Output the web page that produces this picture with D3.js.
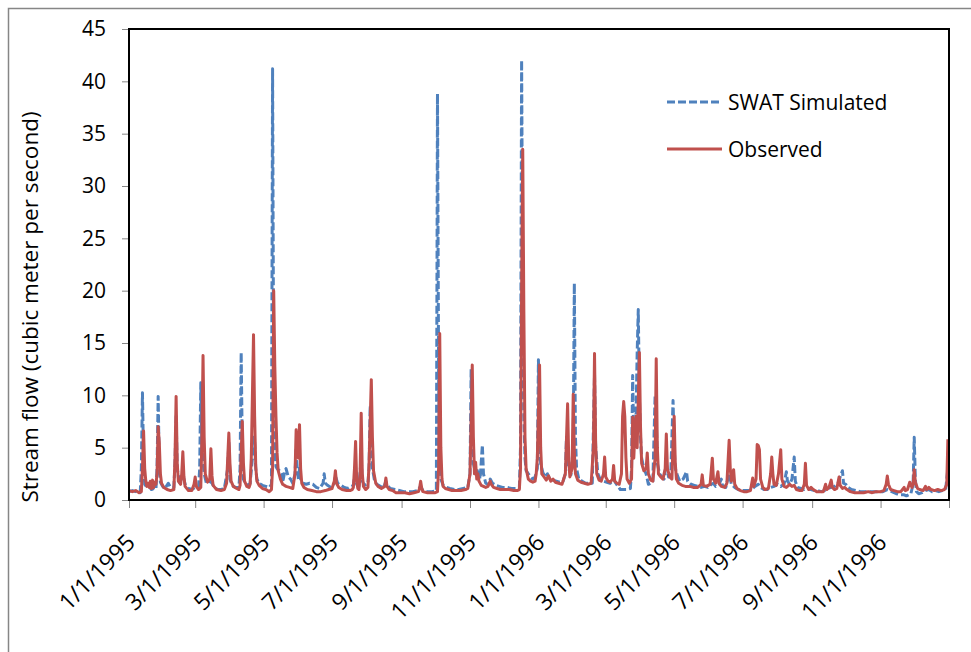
<!DOCTYPE html>
<html>
<head>
<meta charset="utf-8">
<script src="https://d3js.org/d3.v7.min.js"></script>
<style>
body { margin: 0; background: #fff; }
text { font-family: "Open Sans", sans-serif; fill: #000; }
</style>
</head>
<body>
<svg id="chart" width="971" height="652"></svg>
<script>
// day number counted from 1/1/1995
var simDay = [0,3,6,9,10,11,12,13,14,16,18,20,22,24,25,26,27,28,30,32,35,37,40,41,42,43,45,48,50,53,56,59,62,63,64,65,67,69,72,74,76,79,82,85,88,89,90,92,95,98,99,100,101,102,104,106,108,110,111,112,113,114,116,119,122,125,127,128,129,130,131,132,134,136,137,139,140,142,144,146,148,149,150,151,152,153,155,158,161,164,167,170,173,174,175,177,180,183,184,186,189,192,195,198,200,202,203,205,207,208,210,213,214,215,216,217,219,221,224,227,229,230,233,237,241,245,249,253,257,260,262,266,270,274,275,276,277,278,280,283,286,290,294,298,302,304,305,306,307,309,311,313,315,316,318,320,322,324,327,330,333,337,341,345,348,349,350,351,352,353,354,356,358,360,362,364,365,366,367,369,371,373,375,378,381,384,387,389,390,392,394,396,397,398,399,401,404,407,410,413,415,416,418,420,423,426,429,432,434,436,438,441,444,447,448,449,450,452,453,454,455,456,457,459,461,463,465,467,469,470,471,473,475,477,479,481,483,484,485,486,487,489,491,494,497,498,501,504,507,510,513,516,519,521,523,526,528,529,532,535,537,540,543,546,549,552,555,558,561,563,566,569,572,575,578,581,584,586,587,589,591,593,594,596,599,602,605,608,611,614,617,620,623,626,629,632,635,636,637,639,641,644,648,652,656,660,664,668,672,676,680,684,688,691,693,695,697,699,700,701,702,704,707,710,713,716,719,722,725,728,730];
var simFlow = [0.8,0.9,0.8,0.7,0.7,3.0,10.25,3.5,1.5,1.2,1.3,1.0,1.1,1.0,3.0,9.9,3.0,1.7,1.3,1.1,1.6,1.2,1.2,3.5,8.0,3.0,1.6,2.5,1.5,1.1,1.0,1.2,1.2,3.0,11.2,5.0,2.5,1.6,1.8,1.6,1.2,1.0,1.0,1.1,3.0,5.5,2.0,1.4,1.2,1.2,3.0,14.1,5.0,2.0,1.5,1.4,1.6,4.0,6.0,5.5,3.0,2.0,1.6,1.4,1.3,1.2,1.5,41.2,10.0,5.0,3.2,3.0,2.8,2.5,1.7,2.8,3.0,2.2,2.0,1.6,2.5,5.0,3.0,2.0,3.0,2.0,1.6,1.5,1.6,1.5,1.2,1.1,1.6,2.5,1.6,1.4,1.2,1.6,2.3,1.6,1.4,1.2,1.1,1.3,1.4,3.0,1.5,1.3,4.0,1.8,1.4,1.6,3.0,9.0,6.0,3.0,1.8,1.5,1.3,1.2,1.8,1.4,1.1,1.0,0.9,0.8,0.8,0.8,0.9,1.3,0.9,0.8,0.8,0.9,38.8,12.0,4.0,2.0,1.4,1.2,1.1,1.0,1.0,1.1,1.2,2.5,12.5,6.0,3.5,2.5,3.0,2.0,5.25,2.5,1.6,1.5,2.0,1.6,1.4,1.3,1.2,1.2,1.1,1.1,1.2,5.0,42.0,20.0,8.0,4.0,2.8,2.5,2.2,2.0,2.2,3.0,13.4,6.0,3.5,2.6,2.2,2.5,2.0,1.9,1.8,1.7,1.8,2.5,6.0,3.0,2.4,5.0,20.7,6.0,3.0,2.0,1.8,1.6,1.6,1.6,12.0,5.0,2.5,2.0,1.8,1.7,1.6,2.0,1.6,1.3,1.0,1.0,1.0,1.1,3.0,11.9,5.0,8.0,14.0,18.2,10.0,6.0,4.0,3.0,2.5,1.5,1.6,1.8,10.0,8.0,3.5,2.5,2.2,2.0,3.5,2.2,2.5,6.0,9.5,5.0,3.0,2.3,1.8,2.0,2.7,1.8,1.5,1.4,1.3,1.2,1.3,1.2,1.5,1.6,1.3,1.5,2.0,1.4,1.2,2.5,1.5,1.2,1.0,0.9,0.9,0.9,1.0,1.3,1.5,1.2,1.0,1.0,1.2,1.3,1.5,1.3,1.5,2.7,1.8,1.5,2.0,4.1,1.8,1.2,1.1,1.0,1.1,1.0,0.9,0.9,0.8,0.9,1.1,1.2,1.3,1.6,2.5,2.8,1.6,1.5,1.2,1.0,0.9,0.8,0.8,0.8,0.8,0.8,0.8,1.0,0.8,0.6,0.5,0.5,0.4,0.5,0.6,1.5,6.0,2.0,0.8,0.6,0.7,0.9,1.0,0.8,0.9,0.8,0.9,1.0,3.0];

var obsDay = [0,3,6,9,11,12,13,14,15,16,17,18,19,20,21,22,23,24,25,26,27,28,29,31,34,37,40,41,42,43,44,46,47,48,49,50,53,56,58,59,60,62,64,65,66,67,68,70,72,73,74,75,78,82,85,87,89,90,91,93,96,98,99,101,102,103,105,107,108,109,111,112,113,114,116,119,122,125,127,128,129,130,131,132,133,135,137,140,143,146,148,149,150,151,152,153,154,156,159,163,167,171,175,178,181,183,184,185,187,190,194,197,199,200,201,202,203,204,205,206,207,208,209,211,213,214,216,217,218,220,222,225,228,229,230,232,235,238,242,246,250,254,258,259,260,261,262,266,270,273,275,276,277,278,279,280,282,285,288,292,296,300,302,304,306,307,308,309,310,311,312,314,316,318,320,322,323,325,328,331,335,339,343,346,348,349,350,351,352,353,354,356,358,360,362,363,364,366,367,368,370,372,374,376,378,380,383,386,389,391,392,393,395,396,397,398,400,403,406,409,412,414,415,416,417,419,421,423,424,425,427,429,431,432,433,435,437,439,440,441,442,443,444,446,448,449,450,451,452,453,455,456,457,459,461,462,463,465,467,469,470,471,472,474,476,478,479,480,482,484,485,486,487,488,490,493,496,500,503,507,510,511,512,515,518,520,521,523,525,526,528,531,533,535,536,537,539,540,542,545,548,551,554,556,557,559,560,561,562,563,565,567,570,572,573,574,575,577,579,581,582,584,586,589,591,593,595,598,600,602,603,604,606,608,610,613,616,619,621,622,624,626,627,629,631,633,634,636,638,640,643,647,651,655,659,662,666,670,673,675,676,677,679,682,685,688,691,692,694,696,698,699,700,701,703,705,708,710,711,713,715,718,721,724,727,729,730];
var obsFlow = [0.9,0.8,0.9,0.7,0.8,3.0,6.6,3.0,1.8,1.3,1.6,1.2,1.8,1.1,1.9,1.2,1.7,1.5,2.5,7.0,5.5,2.5,1.6,1.2,1.0,0.9,1.0,4.0,9.9,3.5,1.8,1.5,2.5,4.6,2.2,1.3,0.9,0.9,1.5,2.2,1.3,1.0,1.2,6.0,13.8,6.0,2.5,1.7,2.0,4.9,2.3,1.4,1.0,0.9,1.0,1.6,6.4,3.5,1.8,1.3,1.1,1.0,1.4,7.5,3.5,1.8,1.3,1.2,1.5,4.0,15.8,8.0,3.2,1.8,1.4,1.1,1.0,0.8,1.0,3.0,20.0,12.7,8.0,4.5,2.8,2.0,1.5,1.3,1.2,1.1,2.5,6.7,5.0,4.0,7.2,3.0,1.6,1.2,1.0,0.9,0.8,0.8,0.9,1.0,1.1,1.8,2.8,1.6,1.2,1.0,0.9,0.9,1.0,1.2,3.0,5.6,1.8,1.1,1.0,2.5,8.3,2.5,1.3,1.0,1.2,3.5,11.5,6.0,2.8,1.6,1.3,1.1,1.3,2.1,1.3,1.0,0.9,0.7,0.7,0.7,0.6,0.7,0.8,1.1,1.8,1.1,0.8,0.7,0.7,0.7,0.8,3.0,15.9,5.0,2.0,1.3,1.1,1.0,0.9,0.9,0.9,1.0,1.1,2.5,12.9,6.0,2.5,3.6,2.0,2.5,1.8,1.4,1.3,1.2,1.3,1.8,1.5,1.2,1.1,1.0,1.0,1.0,0.9,0.9,1.0,3.0,20.0,33.5,18.0,6.0,3.0,2.0,1.8,1.7,1.8,2.5,4.0,12.9,5.0,2.5,2.2,1.9,2.3,1.8,2.0,1.7,1.6,1.5,2.5,9.2,4.0,2.2,3.0,10.1,4.5,2.5,1.9,1.7,1.6,1.5,1.6,5.0,14.0,5.5,2.5,1.9,1.8,2.5,4.1,2.2,1.8,1.7,2.0,3.3,1.8,1.6,1.5,2.5,8.0,9.4,8.0,4.0,2.0,1.6,2.0,7.9,4.0,6.5,8.0,5.0,14.1,7.0,3.5,2.8,3.0,4.5,2.5,1.9,1.8,4.0,13.5,5.0,2.5,2.2,2.0,3.0,6.3,3.0,2.2,2.0,5.5,8.0,3.5,2.0,1.6,1.4,1.3,1.3,1.2,1.2,1.5,2.4,1.4,1.3,1.5,4.0,2.0,1.6,2.7,1.6,1.3,1.2,1.6,5.7,3.0,1.8,2.9,1.5,1.1,0.9,0.8,0.8,0.9,2.1,1.3,2.0,5.3,5.2,4.8,2.0,1.2,1.0,1.1,2.5,4.1,2.5,1.5,1.4,2.5,4.8,2.0,1.3,1.2,1.5,1.3,1.4,1.0,0.9,0.9,1.5,3.5,1.4,1.0,1.2,1.0,0.8,0.8,0.8,1.5,1.0,1.2,1.9,1.2,1.0,1.1,2.2,1.4,1.1,1.2,1.0,0.8,0.7,0.7,0.7,0.8,0.7,0.8,0.8,0.9,1.5,2.3,1.5,1.0,0.9,0.8,0.8,1.2,0.9,1.0,1.7,1.2,1.5,2.9,1.7,1.1,1.0,0.9,1.3,1.0,1.2,1.0,0.9,1.0,0.9,1.0,1.5,5.8];

var yTicks = [0,5,10,15,20,25,30,35,40,45];
var seriesNames = ["SWAT Simulated","Observed"];

var start = new Date(1995,0,1);
var dayToDate = function(d) { return d3.timeDay.offset(start, d); };

var svg = d3.select("#chart");
var margin = {left: 129, top: 29, right: 949, bottom: 500};

// outer chart frame
svg.append("rect")
  .attr("x", 8.5).attr("y", 8.5)
  .attr("width", 1000).attr("height", 700)
  .attr("fill", "none").attr("stroke", "#868686").attr("stroke-width", 1.5);

var x = d3.scaleTime()
  .domain([start, new Date(1997,0,1)])
  .range([margin.left, margin.right]);
var y = d3.scaleLinear().domain([0,45]).range([margin.bottom, margin.top]);

// y axis
var yAxis = svg.append("g")
  .attr("transform", "translate(" + margin.left + ",0)")
  .call(d3.axisLeft(y).tickValues(yTicks).tickSize(7).tickPadding(16));
yAxis.select(".domain").remove();
yAxis.selectAll("line").attr("stroke", "#868686");
yAxis.selectAll("text").attr("font-size", "21px").attr("font-family", "Open Sans").attr("fill", "#000");

// x axis
var xTicks = d3.timeMonth.every(2).range(start, new Date(1997,0,2));
var xAxis = svg.append("g")
  .attr("transform", "translate(0," + margin.bottom + ")")
  .call(d3.axisBottom(x).tickValues(xTicks).tickSize(8)
    .tickFormat(function(d) { return d.getFullYear() > 1996 ? "" : d3.timeFormat("%-m/%-d/%Y")(d); }));
xAxis.select(".domain").remove();
xAxis.selectAll("line").attr("stroke", "#868686");
xAxis.selectAll("text")
  .attr("font-size", "23px").attr("font-family", "Open Sans").attr("fill", "#000")
  .attr("text-anchor", "end")
  .attr("dy", null).attr("y", null)
  .attr("transform", "translate(7,44) rotate(-45)");

// lines
var line = d3.line()
  .x(function(d) { return x(dayToDate(d[0])); })
  .y(function(d) { return y(d[1]); });

var simPts = simDay.map(function(d, i) { return [d, simFlow[i]]; });
var obsPts = obsDay.map(function(d, i) { return [d, obsFlow[i]]; });

svg.append("path").datum(simPts)
  .attr("d", line).attr("fill", "none")
  .attr("stroke", "#4F81BD").attr("stroke-width", 3)
  .attr("stroke-dasharray", "8,3").attr("stroke-linejoin", "round");

svg.append("path").datum(obsPts)
  .attr("d", line).attr("fill", "none")
  .attr("stroke", "#C0504D").attr("stroke-width", 3)
  .attr("stroke-linejoin", "round");

// plot area border
svg.append("rect")
  .attr("x", margin.left).attr("y", margin.top)
  .attr("width", margin.right - margin.left).attr("height", margin.bottom - margin.top)
  .attr("fill", "none").attr("stroke", "#000").attr("stroke-width", 2);

// axis title
svg.append("text")
  .attr("transform", "translate(38,307) rotate(-90)")
  .attr("text-anchor", "middle")
  .attr("font-size", "22.5px")
  .text("Stream flow (cubic meter per second)");

// legend
var legend = svg.selectAll(".legend")
  .data(seriesNames).enter().append("g")
  .attr("class", "legend")
  .attr("transform", function(d, i) { return "translate(667," + (102 + i * 47) + ")"; });
legend.append("line")
  .attr("x1", 0).attr("x2", 55).attr("y1", 0).attr("y2", 0)
  .attr("stroke-width", 3)
  .attr("stroke", function(d, i) { return i == 0 ? "#4F81BD" : "#C0504D"; })
  .attr("stroke-dasharray", function(d, i) { return i == 0 ? "8,3" : null; });
legend.append("text")
  .attr("x", 61).attr("y", 7.5)
  .attr("font-size", "21px")
  .text(function(d) { return d; });
</script>
</body>
</html>
